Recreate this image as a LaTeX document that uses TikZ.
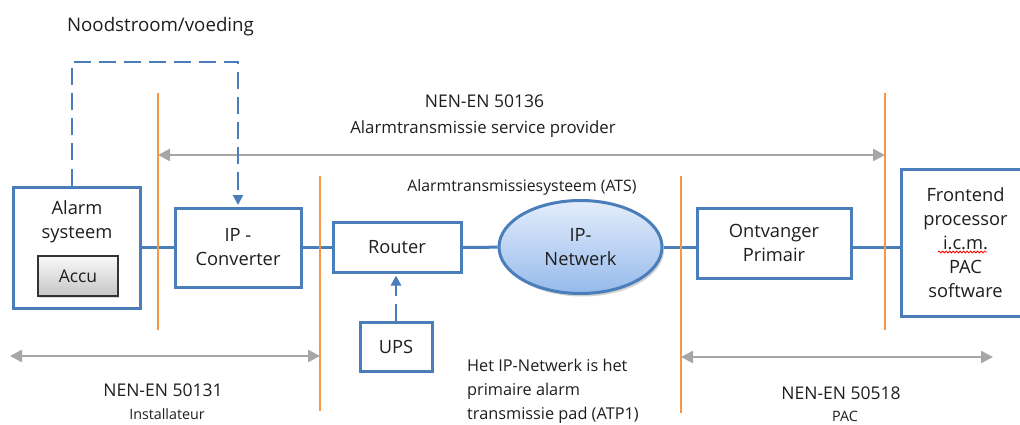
\documentclass[tikz,border=0pt]{standalone}
\usepackage{fontspec}
\setmainfont{Open Sans}
\usetikzlibrary{arrows.meta,shapes.geometric,shadows,decorations.pathmorphing}
\definecolor{boxblue}{RGB}{74,126,187}
\definecolor{lineorange}{RGB}{247,150,70}
\definecolor{spangray}{RGB}{166,166,166}
\definecolor{textgray}{RGB}{30,30,30}
\definecolor{netlight}{RGB}{228,237,251}
\definecolor{netdark}{RGB}{150,186,236}
\tikzset{
  unit/.style={draw=boxblue, line width=3pt, fill=white, align=center, text=textgray, font=\fontsize{18.3}{24}\selectfont},
  accubox/.style={draw=black!80, line width=1.5pt, top color=gray!5, bottom color=gray!45, text=textgray,
    minimum width=80pt, minimum height=40pt, font=\fontsize{17.5}{20}\selectfont, drop shadow={opacity=0.3, shadow xshift=1pt, shadow yshift=-1.5pt}},
  netcloud/.style={ellipse, draw=boxblue, line width=3pt, top color=netlight, bottom color=netdark, align=center, text=textgray,
    font=\fontsize{18.3}{24}\selectfont, drop shadow={opacity=0.35, shadow xshift=2pt, shadow yshift=-3pt}},
  link/.style={draw=boxblue, line width=3pt},
  feed/.style={draw=boxblue, line width=2.5pt, dash pattern=on 17pt off 8pt, -{Triangle[length=10pt,width=10pt]}},
  border/.style={draw=lineorange, line width=2.5pt},
  span/.style={draw=spangray, line width=2.5pt, {Triangle[length=12pt,width=12pt]}-{Triangle[length=12pt,width=12pt]}},
  caption/.style={text=textgray, align=center},
}
\begin{document}
\begin{tikzpicture}[x=1pt,y=-1pt]
    \useasboundingbox (0,0) rectangle (1020,425);

    % grenzen
    \coordinate (g1) at (158,93);
    \coordinate (g2) at (320,176);
    \coordinate (g3) at (681,176);
    \coordinate (g4) at (885,93);

    % componenten
    \node[unit, minimum width=127pt, minimum height=121pt] (alarm) at (76.5,247.5) {};
    \node[caption, font=\fontsize{18.3}{24}\selectfont] (alarmtxt) at (77,222) {Alarm\\systeem};
    \node[accubox] (accu) at (78,276) {Accu};
    \node[unit, minimum width=126pt, minimum height=79pt] (ipconv) at (238,247.5) {IP -\\Converter};
    \node[unit, minimum width=128pt, minimum height=50pt] (router) at (397,247.5) {Router};
    \node[unit, minimum width=72pt, minimum height=49pt] (ups) at (396,346.5) {UPS};
    \node[netcloud, minimum width=163pt, minimum height=93pt] (ipnet) at (580.5,247) {IP-\\Netwerk};
    \node[unit, minimum width=154pt, minimum height=70pt] (ontv) at (774,243) {Ontvanger\\Primair};
    \node[unit, minimum width=129pt, minimum height=147pt] (front) at (965.5,242.5) {Frontend\\processor\\i.c.m.\\PAC\\software};
    \draw[red, line width=0.8pt, decorate, decoration={snake, amplitude=1pt, segment length=3.5pt}] (938,252) -- (987,252);

    % bereik
    \draw[span] (g1 |- 0,155) -- (g4 |- 0,155);
    \draw[span] (10,356) -- (g2 |- 0,356);
    \draw[span] (g3 |- 0,357) -- (993,357);

    % verbindingen
    \draw[link] (alarm) -- (ipconv);
    \draw[link] (ipconv) -- (router);
    \draw[link] (router) -- (ipnet);
    \draw[link] (ipnet) -- (ontv.west |- ipnet);
    \draw[link] (ontv.east |- ipnet) -- (front.west |- ipnet);

    \draw[border] (g1) -- ++(0,237);
    \draw[border] (g2) -- ++(0,235);
    \draw[border] (g3) -- ++(0,237);
    \draw[border] (g4) -- ++(0,237);

    % voeding
    \coordinate (noodtop) at (72,62);
    \draw[feed, shorten >=1.5pt] (noodtop |- alarm.north) -- (noodtop) -| (ipconv.north);
    \draw[feed, shorten >=1.5pt] (ups.north) -- (ups.north |- router.south);

    % teksten
    \node[caption, font=\fontsize{18.7}{22}\selectfont] (nood) at (160.5,27) {Noodstroom/voeding};
    \node[caption, font=\fontsize{17.5}{20}\selectfont] (nen136) at (484.5,101) {NEN-EN 50136};
    \node[caption, font=\fontsize{16.8}{18}\selectfont] (asp) at (483,129) {Alarmtransmissie service provider};
    \node[caption, font=\fontsize{15.8}{18}\selectfont] (ats) at (522,187) {Alarmtransmissiesysteem (ATS)};
    \node[caption, align=left, anchor=north west, inner sep=0pt, font=\fontsize{16.3}{24}\selectfont] (atp) at (467,359) {Het IP-Netwerk is het\\primaire alarm\\transmissie pad (ATP1)};
    \node[caption, font=\fontsize{17.5}{20}\selectfont] (nen131) at (163,390) {NEN-EN 50131};
    \node[caption, font=\fontsize{14.3}{18}\selectfont] (inst) at (167,414) {Installateur};
    \node[caption, font=\fontsize{17.5}{20}\selectfont] (nen518) at (841,393) {NEN-EN 50518};
    \node[caption, font=\fontsize{14.3}{18}\selectfont] (pac) at (845,416) {PAC};
\end{tikzpicture}
\end{document}
